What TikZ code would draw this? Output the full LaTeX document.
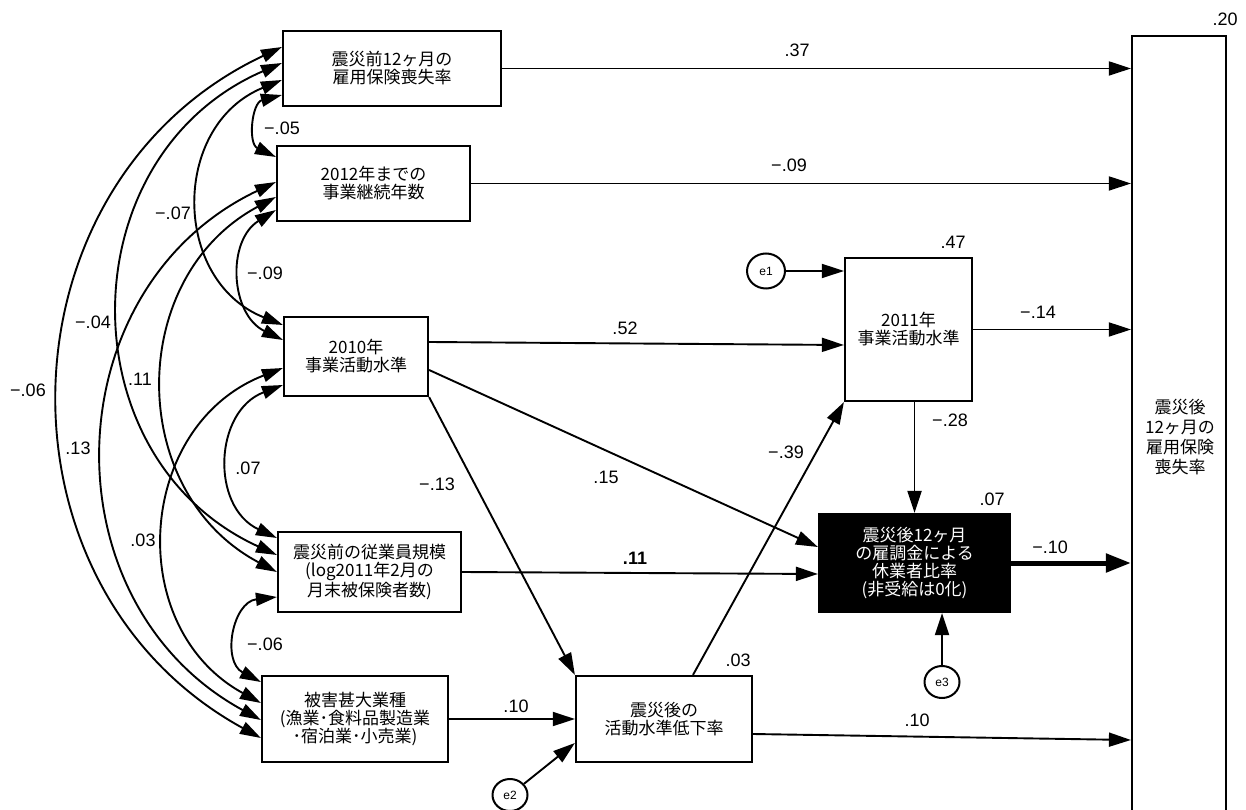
\documentclass[tikz,border=0pt]{standalone}
\usepackage{fontspec}
\setmainfont{Liberation Sans}
\newfontfamily\jp{Noto Sans CJK JP}
\usetikzlibrary{arrows.meta,shapes.geometric}
\begin{document}
\begin{tikzpicture}[x=1pt,y=1pt,
  box/.style={draw, line width=2.2pt, inner sep=0pt, align=center, font=\jp\fontsize{17pt}{18pt}\selectfont},
  err/.style={ellipse, draw, line width=2pt, inner sep=0pt, minimum width=35pt, minimum height=32pt, font=\fontsize{12pt}{12pt}\selectfont},
  lab/.style={inner sep=0pt, font=\fontsize{18pt}{18pt}\selectfont},
  arr/.style={draw, line width=1.9pt, -{Triangle[length=22pt,width=14pt]}},
  thickarr/.style={draw, line width=5pt, -{Triangle[length=25pt,width=18pt]}},
  cov/.style={draw, line width=1.9pt, {Triangle[length=21pt,width=13pt]}-{Triangle[length=21pt,width=13pt]}}
  ]
\useasboundingbox (0,0) rectangle (1246,809);
\clip (0,0) rectangle (1246,809);
% boxes
\node[box, minimum width=218pt, minimum height=75pt] (b1) at (392,740.5) {震災前12ヶ月の\\雇用保険喪失率};
\node[box, minimum width=193pt, minimum height=75pt] (b2) at (373.5,625.5) {2012年までの\\事業継続年数};
\node[box, minimum width=144pt, minimum height=79pt] (b3) at (356,452.5) {2010年\\事業活動水準};
\node[box, minimum width=183pt, minimum height=80pt] (b4) at (369.5,237) {震災前の従業員規模\\(log2011年2月の\\月末被保険者数)};
\node[box, minimum width=186pt, minimum height=86pt] (b5) at (355,90) {被害甚大業種\\(漁業･食料品製造業\\･宿泊業･小売業)};
\node[box, minimum width=176pt, minimum height=86pt] (b6) at (664,90) {震災後の\\活動水準低下率};
\node[box, minimum width=127pt, minimum height=143pt] (b7) at (908.5,479.5) {2011年\\事業活動水準};
\node[box, fill=black, text=white, minimum width=191pt, minimum height=98pt] (b8) at (914.5,246) {震災後12ヶ月\\の雇調金による\\休業者比率\\(非受給は0化)};
\node[box, minimum width=94pt, minimum height=800pt] (b9) at (1179,373) {};
\node[align=center, inner sep=0pt, font=\jp\fontsize{17pt}{20pt}\selectfont] (t9) at (1180,372) {震災後\\12ヶ月の\\雇用保険\\喪失率};
% error terms
\node[err, minimum width=38pt, minimum height=35pt] (e1) at (766,538) {e1};
\node[err] (e2) at (510,14) {e2};
\node[err] (e3) at (942,127) {e3};
% paths
\draw[arr] (b1.east) -- (b1.east -| b9.west);
\draw[arr] (b2.east) -- (b2.east -| b9.west);
\draw[arr] ([yshift=14.5]b3.east) -- ([yshift=-15.5]b7.west);
\draw[arr] ([yshift=-13.5]b3.east) -- ([yshift=16]b8.west);
\draw[arr] (b3.south east) -- (b6.north west);
\draw[arr] (b4.east) -- ([yshift=-11]b8.west);
\draw[arr] (b5.east) -- (b6.west);
\draw[arr] (e2) -- ([yshift=-24]b6.west);
\draw[arr] ([xshift=29]b6.north) -- (b7.south west);
\draw[arr] ([yshift=-15]b6.east) -- ([yshift=-304]b9.west);
\draw[arr] (b7.east) -- (b7.east -| b9.west);
\draw[arr] (b8.north |- b7.south) -- (b8.north);
\draw[arr] (e1.east) -- (e1.east -| b7.west);
\draw[arr] (e3) -- (e3 |- b8.south);
\draw[thickarr] (b8.east) -- (b8.east -| b9.west);
% covariances
\draw[cov] ([yshift=21.5]b1.west) to[bend right=63, looseness=1.17] ([yshift=-19]b5.west);
\draw[cov] ([yshift=5.5]b1.west) to[bend right=66, looseness=1.21] ([yshift=17]b4.west);
\draw[cov] ([yshift=-11.5]b1.west) to[bend right=68, looseness=1.25] ([yshift=31.5]b3.west);
\draw[cov] ([yshift=-26.5]b1.west) to[bend right=70, looseness=1.28] ([yshift=26.5]b2.west);
\draw[cov] ([yshift=1.5]b2.west) to[bend right=63, looseness=1.17] ([yshift=-1]b5.west);
\draw[cov] ([yshift=-13.5]b2.west) to[bend right=62, looseness=1.16] (b4.west);
\draw[cov] ([yshift=-26.5]b2.west) to[bend right=61, looseness=1.15] ([yshift=16.5]b3.west);
\draw[cov] ([yshift=-11.5]b3.west) to[bend right=65, looseness=1.2] ([yshift=16]b5.west);
\draw[cov] ([yshift=-28.5]b3.west) to[bend right=67, looseness=1.23] ([yshift=34]b4.west);
\draw[cov] ([yshift=-25]b4.west) to[bend right=73, looseness=1.32] ([yshift=37]b5.west);
% labels
\node[lab] (l1) at (1225,790) {.20};
\node[lab] (l2) at (797,759) {.37};
\node[lab] (l3) at (789,644) {−.09};
\node[lab] (l4) at (953,567) {.47};
\node[lab] (l5) at (1038,497) {−.14};
\node[lab] (l6) at (625,481) {.52};
\node[lab] (l7) at (950,389) {−.28};
\node[lab] (l8) at (786,357) {−.39};
\node[lab] (l9) at (606,332) {.15};
\node[lab] (l10) at (437,325) {−.13};
\node[lab] (l11) at (992,310) {.07};
\node[lab, font=\bfseries\fontsize{18pt}{18pt}\selectfont] (l12) at (635,251) {.11};
\node[lab] (l13) at (1050,262) {−.10};
\node[lab] (l14) at (738,149) {.03};
\node[lab] (l15) at (516,103) {.10};
\node[lab] (l16) at (917,89) {.10};
\node[lab] (l17) at (282,681) {−.05};
\node[lab] (l18) at (173,596) {−.07};
\node[lab] (l19) at (265,536) {−.09};
\node[lab] (l20) at (93,487) {−.04};
\node[lab] (l21) at (140,430) {.11};
\node[lab] (l22) at (28,419) {−.06};
\node[lab] (l23) at (78,361) {.13};
\node[lab] (l24) at (248,341) {.07};
\node[lab] (l25) at (143,269) {.03};
\node[lab] (l26) at (265,165) {−.06};
\end{tikzpicture}
\end{document}
